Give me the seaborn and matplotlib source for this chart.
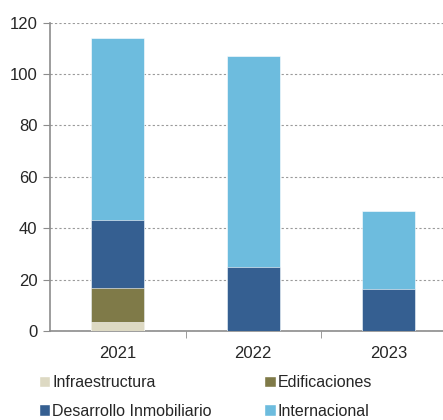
import numpy as np
import pandas as pd
import seaborn as sns
import matplotlib.pyplot as plt
from matplotlib.patches import Patch

sns.set_style("white")
plt.rcParams['font.family'] = ['Liberation Sans', 'DejaVu Sans']

# Datos
years = ["2021", "2022", "2023"]
infraestructura = [3.5, 0, 0]
edificaciones = [13.4, 0, 0]
desarrollo = [26.3, 24.8, 16.4]
internacional = [71.0, 82.3, 30.3]

series = ["Infraestructura", "Edificaciones", "Desarrollo Inmobiliario", "Internacional"]
colors = ["#DDD9C3", "#7F7A48", "#355F91", "#6DBCDE"]

df = pd.DataFrame({
    "year": years,
    "Infraestructura": infraestructura,
    "Edificaciones": edificaciones,
    "Desarrollo Inmobiliario": desarrollo,
    "Internacional": internacional,
})
cum = df[series].cumsum(axis=1)

fig = plt.figure(figsize=(4.43, 4.2), dpi=100)
ax = fig.add_axes([0.113, 0.212, 0.887, 0.734])

# barras apiladas: de la mas alta a la mas baja
for s, c in zip(series[::-1], colors[::-1]):
    sns.barplot(x=df["year"], y=cum[s], color=c, width=0.39, ax=ax,
                edgecolor="white", linewidth=0.4, saturation=1, zorder=3)

ax.set_ylim(0, 120)
ax.set_xlim(-0.5, 2.4)
ax.set_yticks(np.arange(0, 121, 20))
ax.yaxis.grid(True, linestyle=(0, (2, 2)), color="#9a9a9a", linewidth=0.8, zorder=0)
ax.set_xlabel("")
ax.set_ylabel("")

for side in ["top", "right"]:
    ax.spines[side].set_visible(False)
for side in ["left", "bottom"]:
    ax.spines[side].set_color("#8c8c8c")
    ax.spines[side].set_linewidth(1.2)

ax.tick_params(axis="y", left=True, length=5, color="#8c8c8c", labelsize=12, pad=4)
ax.tick_params(axis="x", bottom=False, labelsize=12, pad=7)
ax.set_xticks([0.5, 1.5], minor=True)
ax.tick_params(axis="x", which="minor", bottom=True, length=5, color="#8c8c8c")

handles = [Patch(facecolor=c, label=s) for s, c in zip(series, colors)]
order = [0, 2, 1, 3]
fig.legend([handles[i] for i in order], [series[i] for i in order],
           ncol=2, loc="upper left", bbox_to_anchor=(0.088, 0.107),
           frameon=False, fontsize=11.5, handlelength=0.72, handleheight=0.72,
           handletextpad=0.1, columnspacing=3.3, labelspacing=0.85,
           borderaxespad=0, borderpad=0)

fig.savefig("out.png", dpi=100)
